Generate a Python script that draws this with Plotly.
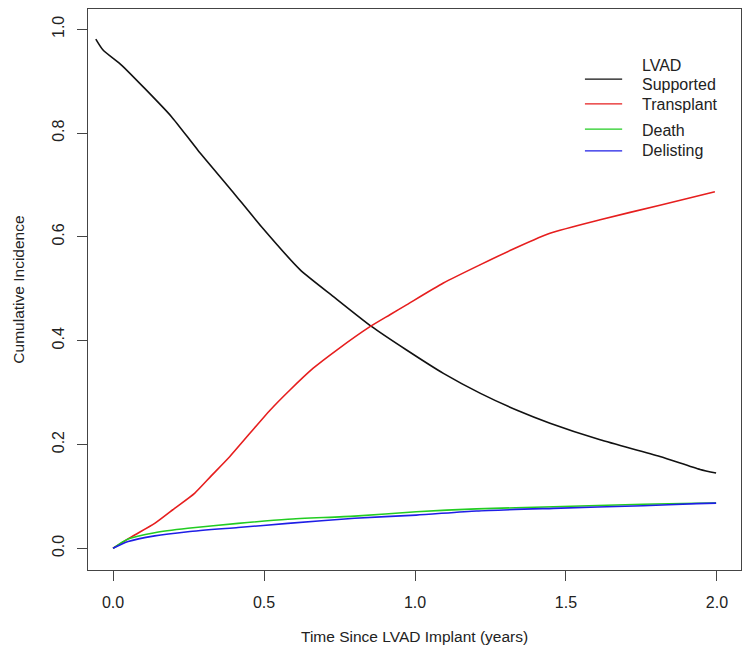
import plotly.graph_objects as go

# ---- data ----
time_supported = [-0.057, -0.033, 0.028, 0.105, 0.193, 0.281, 0.392, 0.491, 0.619, 0.730,
                  0.857, 0.972, 1.094, 1.215, 1.342, 1.447, 1.613, 1.811, 1.944, 1.997]
supported = [0.981, 0.960, 0.931, 0.886, 0.832, 0.767, 0.690, 0.620, 0.537, 0.485,
             0.427, 0.382, 0.337, 0.299, 0.265, 0.241, 0.209, 0.177, 0.152, 0.145]

time_transplant = [0.0, 0.061, 0.138, 0.204, 0.270, 0.326, 0.387, 0.454, 0.520, 0.586, 0.663,
                   0.741, 0.851, 0.917, 0.972, 1.094, 1.215, 1.342, 1.447, 1.613, 1.811, 1.993]
transplant = [0.0, 0.022, 0.048, 0.077, 0.106, 0.140, 0.177, 0.222, 0.266, 0.305, 0.347,
              0.382, 0.427, 0.450, 0.469, 0.511, 0.546, 0.581, 0.607, 0.633, 0.661, 0.687]

time_small = [0.0, 0.050, 0.138, 0.248, 0.414, 0.579, 0.800, 1.004, 1.204, 1.458, 1.756, 1.933, 1.997]
death = [0.0, 0.018, 0.030, 0.0385, 0.048, 0.056, 0.062, 0.0705, 0.076, 0.080, 0.085, 0.0867, 0.087]
delisting = [0.0, 0.013, 0.024, 0.032, 0.040, 0.048, 0.058, 0.064, 0.072, 0.077, 0.082, 0.086, 0.087]

x_ticks = [0.0, 0.5, 1.0, 1.5, 2.0]
y_ticks = [0.0, 0.2, 0.4, 0.6, 0.8, 1.0]
series_names = ["LVAD Supported", "Transplant", "Death", "Delisting"]

colors = ["#111111", "#e61e1e", "#22cc22", "#1e1ee6"]
FONT = "Liberation Sans, Arial, sans-serif"
TXT = "#222222"

fig = go.Figure()
series = [(time_supported, supported), (time_transplant, transplant),
          (time_small, death), (time_small, delisting)]
for (t, v), c, name in zip(series, colors, series_names):
    fig.add_trace(go.Scatter(x=t, y=v, mode="lines", name=name,
                             line=dict(color=c, width=1.6, shape="spline", smoothing=0.6),
                             showlegend=False))

# manual legend (R-style, no frame)
leg_line_y = [0.875, 0.831, 0.786, 0.747]
for c, ly in zip(colors, leg_line_y):
    fig.add_shape(type="line", xref="paper", yref="paper", x0=0.761, x1=0.818,
                  y0=ly, y1=ly, line=dict(color=c, width=1.2))
leg_texts = [("LVAD", 0.900), ("Supported", 0.866), ("Transplant", 0.829),
             ("Death", 0.784), ("Delisting", 0.747)]
for lab, ty in leg_texts:
    fig.add_annotation(xref="paper", yref="paper", x=0.845, y=ty, text=lab,
                       showarrow=False, xanchor="left", yanchor="middle", align="left",
                       font=dict(family=FONT, size=16, color=TXT))

# axis titles
fig.add_annotation(xref="paper", yref="paper", x=0.5, y=-0.1194,
                   text="Time Since LVAD Implant (years)", showarrow=False,
                   xanchor="center", yanchor="middle",
                   font=dict(family=FONT, size=15.5, color=TXT))
fig.add_annotation(xref="paper", yref="paper", x=-0.107, y=0.50,
                   text="Cumulative Incidence", showarrow=False, textangle=-90,
                   xanchor="center", yanchor="middle",
                   font=dict(family=FONT, size=15.5, color=TXT))

axis_common = dict(showgrid=False, zeroline=False, showline=True, mirror=True,
                   linecolor="#444444", linewidth=1.3, ticks="outside", ticklen=10,
                   tickwidth=1.2, tickcolor="#444444", tickformat=".1f",
                   tickfont=dict(family=FONT, size=16, color=TXT))

fig.update_layout(
    width=746, height=652,
    margin=dict(l=80, r=13, t=1, b=90),
    paper_bgcolor="white", plot_bgcolor="white",
    xaxis=dict(range=[-0.0828, 2.0795], tickvals=x_ticks, ticklabelstandoff=8, **axis_common),
    yaxis=dict(range=[-0.0418, 1.039], tickvals=y_ticks, tickangle=-90, ticklabelstandoff=6,
               **axis_common),
    showlegend=False,
)

fig.write_html("out.html")
